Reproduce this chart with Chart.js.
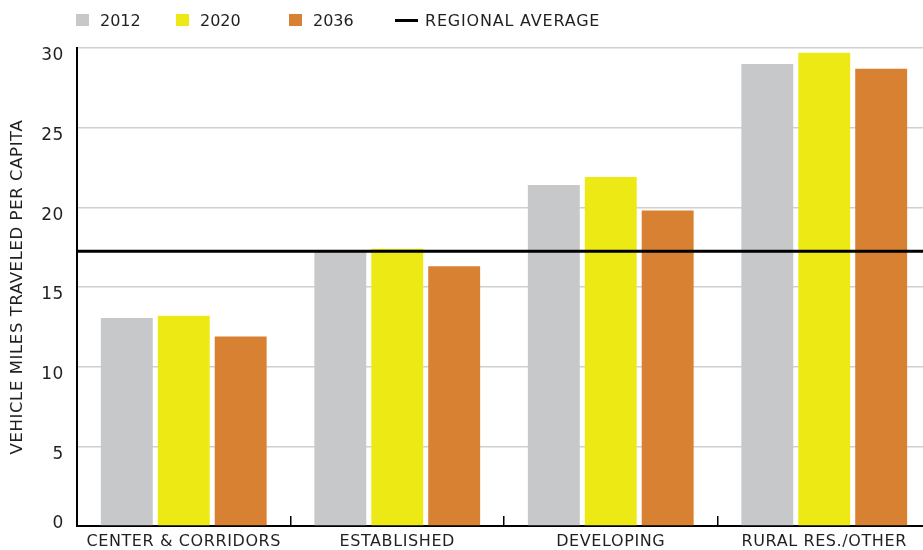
<!DOCTYPE html>
<html lang="en">
<head>
  <meta charset="UTF-8">
  <title>Vehicle Miles Traveled per Capita</title>
  <style>
    body {
      margin: 0;
      padding: 0;
      background: #fff;
      overflow: hidden;
      font-family: 'DejaVu Sans', sans-serif;
    }

    .wrap {
      position: relative;
      width: 931px;
      height: 550px;
    }

    #legend {
      position: absolute;
      top: 10px;
      left: 76px;
      display: flex;
      align-items: center;
      font-size: 16px;
      color: #231f20;
      z-index: 2;
    }

    #legend .item {
      display: flex;
      align-items: center;
      height: 20px;
    }

    #legend .swatch {
      display: inline-block;
      width: 13px;
      height: 12px;
      margin-right: 11px;
    }

    #legend .line {
      display: inline-block;
      width: 23px;
      height: 3px;
      margin-right: 7px;
      background: #000;
    }

    #legend .item:nth-child(1) { width: 100px; }
    #legend .item:nth-child(2) { width: 113px; }
    #legend .item:nth-child(3) { width: 106px; }
    #legend .item:nth-child(4) { letter-spacing: 0.8px; }
  </style>
</head>
<body>

  <div class="wrap">
    <div id="legend"></div>
    <canvas id="vmtChart"></canvas>
  </div>

  <script src="https://cdn.jsdelivr.net/npm/chart.js"></script>
  <script>
    const categories = ['CENTER & CORRIDORS', 'ESTABLISHED', 'DEVELOPING', 'RURAL RES./OTHER'];
    const seriesNames = ['2012', '2020', '2036'];
    const vmt2012 = [13.05, 17.2, 21.4, 29.0];
    const vmt2020 = [13.2, 17.4, 21.9, 29.7];
    const vmt2036 = [11.9, 16.3, 19.8, 28.7];
    const regionalAverage = 17.25;
    const averageLabel = 'REGIONAL AVERAGE';
    const yMin = 0;
    const yMax = 30;
    const yStep = 5;

    const colors = ['#c7c8ca', '#ede914', '#d88132'];
    const textColor = '#231f20';

    // legend (html so the items can sit where the original has them)
    const legendEl = document.getElementById('legend');
    seriesNames.forEach((name, i) => {
      const item = document.createElement('span');
      item.className = 'item';
      item.innerHTML = `<span class="swatch" style="background:${colors[i]}"></span>${name}`;
      legendEl.appendChild(item);
    });
    const avgItem = document.createElement('span');
    avgItem.className = 'item';
    avgItem.innerHTML = `<span class="line"></span>${averageLabel}`;
    legendEl.appendChild(avgItem);

    const seriesData = [vmt2012, vmt2020, vmt2036];
    const datasets = seriesNames.map((name, i) => ({
      label: name,
      data: seriesData[i],
      backgroundColor: colors[i],
      borderWidth: 0
    }));

    // the original font is a bit wider than DejaVu, spread the canvas text a little
    const letterSpacingPlugin = {
      id: 'letterSpacing',
      beforeUpdate(chart) { chart.ctx.letterSpacing = '0.6px'; },
      beforeDraw(chart) { chart.ctx.letterSpacing = '0.6px'; }
    };

    // regional average: full-width line on top of the bars, placed by the y scale
    const averageLinePlugin = {
      id: 'averageLine',
      afterDatasetsDraw(chart, args, opts) {
        const { ctx, chartArea, scales } = chart;
        const py = scales.y.getPixelForValue(opts.value);
        ctx.save();
        ctx.strokeStyle = opts.color;
        ctx.lineWidth = opts.width;
        ctx.beginPath();
        ctx.moveTo(chartArea.left, py);
        ctx.lineTo(chartArea.right, py);
        ctx.stroke();
        ctx.restore();
      }
    };

    const ctx = document.getElementById('vmtChart').getContext('2d');
    new Chart(ctx, {
      type: 'bar',
      data: {
        labels: categories,
        datasets: datasets
      },
      plugins: [letterSpacingPlugin, averageLinePlugin],
      options: {
        responsive: true,
        maintainAspectRatio: false,
        animation: false,
        layout: {
          padding: { top: 48, right: 0, bottom: 0, left: 0 }
        },
        datasets: {
          bar: {
            categoryPercentage: 0.8,
            barPercentage: 0.912
          }
        },
        plugins: {
          legend: { display: false },
          tooltip: { enabled: false },
          averageLine: { value: regionalAverage, color: '#000', width: 3 }
        },
        scales: {
          x: {
            grid: {
              offset: true,
              drawOnChartArea: false,
              tickLength: -10,
              color: '#000',
              lineWidth: 1.5
            },
            border: { color: '#000', width: 2 },
            ticks: {
              color: textColor,
              font: { family: 'DejaVu Sans', size: 16 },
              padding: 16,
              maxRotation: 0,
              autoSkip: false
            },
            afterFit: scale => { scale.height = 24; }
          },
          y: {
            min: yMin,
            max: yMax,
            grid: {
              color: '#cfcfcf',
              lineWidth: 1.5,
              drawTicks: false
            },
            border: { color: '#000', width: 2 },
            ticks: {
              stepSize: yStep,
              color: textColor,
              font: { family: 'DejaVu Sans', size: 17 },
              padding: 13,
              labelOffset: 8,
              // the zero label sits just above the axis in the original
              callback: v => (v === 0 ? ['0', ''] : v)
            },
            title: {
              display: true,
              text: 'VEHICLE MILES TRAVELED PER CAPITA',
              color: textColor,
              font: { family: 'DejaVu Sans', size: 16.5 },
              padding: { top: 8, bottom: 0 }
            },
            afterFit: scale => {
              scale.width = 77;
              scale.paddingTop = 0;
              scale.paddingBottom = 0;
            }
          }
        }
      }
    });
  </script>

</body>
</html>
